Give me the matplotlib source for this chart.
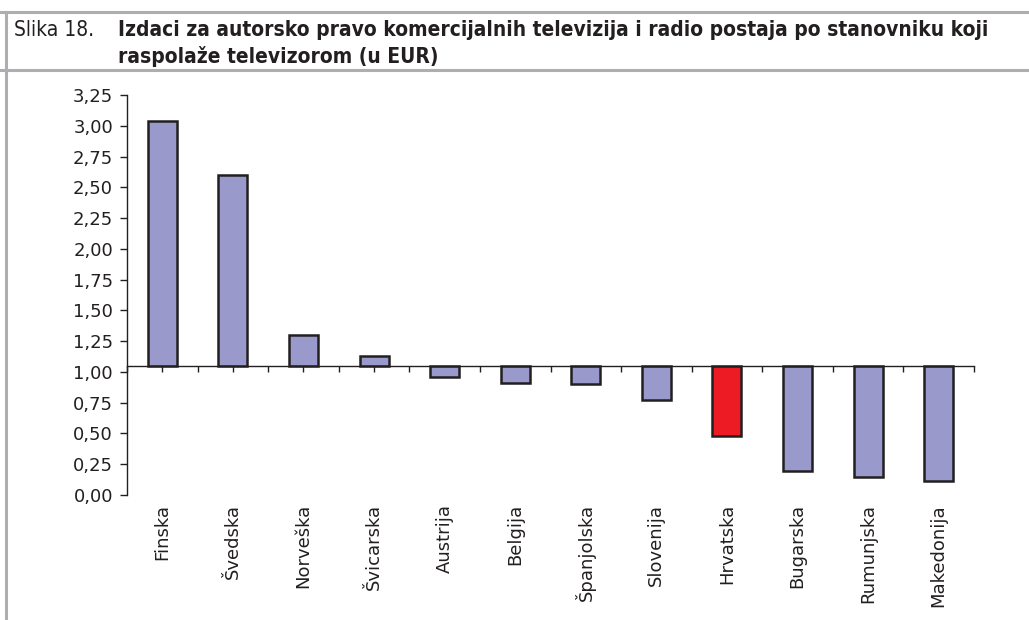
import matplotlib
matplotlib.use("Agg")
import matplotlib.pyplot as plt
from matplotlib import font_manager
from matplotlib.lines import Line2D
import numpy as np

categories = ["Finska", "Švedska", "Norveška", "Švicarska", "Austrija", "Belgija",
              "Španjolska", "Slovenija", "Hrvatska", "Bugarska", "Rumunjska", "Makedonija"]
values = [3.04, 2.60, 1.30, 1.13, 0.96, 0.91, 0.90, 0.77, 0.48, 0.195, 0.15, 0.11]
baseline = 1.05
ytick_values = [0.0, 0.25, 0.5, 0.75, 1.0, 1.25, 1.5, 1.75, 2.0, 2.25, 2.5, 2.75, 3.0, 3.25]
ytick_labels = ["0,00", "0,25", "0,50", "0,75", "1,00", "1,25", "1,50", "1,75",
                "2,00", "2,25", "2,50", "2,75", "3,00", "3,25"]
highlight = "Hrvatska"
title_prefix = "Slika 18."
title_line1 = "Izdaci za autorsko pravo komercijalnih televizija i radio postaja po stanovniku koji"
title_line2 = "raspolaže televizorom (u EUR)"

names = {f.name for f in font_manager.fontManager.ttflist}
narrow = "Liberation Sans Narrow" if "Liberation Sans Narrow" in names else "DejaVu Sans"
narrow_kw = {} if narrow == "Liberation Sans Narrow" else {"fontstretch": "condensed"}

W, H = 1029, 620
fig = plt.figure(figsize=(W / 100, H / 100), dpi=100)

# Title frame
border = "#AEAEB2"
fig.add_artist(Line2D([0, 1], [1 - 12 / H, 1 - 12 / H], color=border, lw=2.2, transform=fig.transFigure))
fig.add_artist(Line2D([0, 1], [1 - 70 / H, 1 - 70 / H], color=border, lw=2.2, transform=fig.transFigure))
fig.add_artist(Line2D([6 / W, 6 / W], [0, 1 - 12 / H], color=border, lw=2.2, transform=fig.transFigure))

tcol = "#231F20"
fig.text(14 / W, 1 - 36 / H, title_prefix, fontsize=15, family=narrow, color=tcol,
         va="baseline", ha="left", **narrow_kw)
fig.text(118 / W, 1 - 36 / H, title_line1, fontsize=15, family=narrow, weight="bold",
         color=tcol, va="baseline", ha="left", **narrow_kw)
fig.text(118 / W, 1 - 63 / H, title_line2, fontsize=15, family=narrow, weight="bold",
         color=tcol, va="baseline", ha="left", **narrow_kw)

# Axes
ax = fig.add_axes([127 / W, 1 - 495 / H, 847 / W, 400 / H])
x = np.arange(len(categories))
colors = ["#ED1C24" if c == highlight else "#9999CC" for c in categories]
heights = [v - baseline for v in values]
ax.bar(x, heights, bottom=baseline, width=0.41, color=colors, edgecolor="#231F20",
       linewidth=1.8, zorder=2)

ax.set_xlim(-0.5, len(categories) - 0.5)
ax.set_ylim(0, 3.25)
ax.set_yticks(ytick_values)
ax.set_yticklabels(ytick_labels)

for s in ["top", "right"]:
    ax.spines[s].set_visible(False)
ax.spines["bottom"].set_position(("data", baseline))
ax.spines["bottom"].set_zorder(3)
for s in ["left", "bottom"]:
    ax.spines[s].set_color("#231F20")
    ax.spines[s].set_linewidth(1.0)

ax.set_xticks(np.arange(-0.5, len(categories), 0.5))
ax.tick_params(axis="x", direction="out", length=4.5, width=1.0, color="#231F20",
               labelbottom=False)
ax.tick_params(axis="y", direction="out", length=5, width=1.0, color="#231F20",
               labelsize=13, pad=5, labelcolor="#231F20")
for lab in ax.get_yticklabels():
    lab.set_family("DejaVu Sans")

for i, c in enumerate(categories):
    ax.annotate(c, xy=(i, 0), xycoords=("data", "axes fraction"), xytext=(0, -6.5),
                textcoords="offset points", rotation=90, ha="center", va="top",
                fontsize=13, color="#231F20", family="DejaVu Sans")

fig.savefig("out.png", dpi=100)
